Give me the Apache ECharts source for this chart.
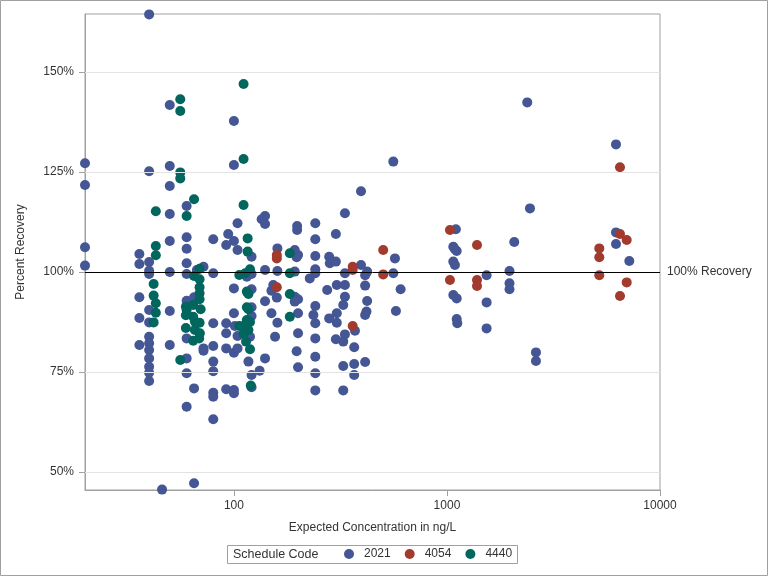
<!DOCTYPE html>
<html><head><meta charset="utf-8">
<script src="https://cdn.jsdelivr.net/npm/echarts@6.0.0/dist/echarts.min.js"></script>
<style>html,body{margin:0;padding:0;background:#fff}#c{width:768px;height:576px}</style>
</head><body><div id="c"></div>
<script>
const categories = ['2021', '4054', '4440'];
const colors = ['#445694', '#A23A2E', '#01665E'];
const xTicks = [100, 1000, 10000];
const yTicks = [50, 75, 100, 125, 150];
const referenceValue = 100;

const conc2021 = [40,50,100,20,40,50,100,20,50,60,50,104,140,135,140,94,100,92,104,121,80,60,60,50,36,36,40,40,40,20,20,50,60,60,72,67,80,115,121,140,159,150,140,150,156,36,40,36,40,40,50,60,65,60,80,100,121,121,100,121,92,101,92,104,119,36,40,40,40,40,40,40,50,60,60,65,60,72,72,80,80,80,80,80,80,92,100,104,117,121,132,140,121,92,100,100,65,46,
395,332,198,198,241,241,301,160,193,200,197,241,280,282,301,570,160,193,241,241,227,332,395,422,413,560,606,413,153,193,200,193,274,304,332,332,326,422,241,200,236,241,160,280,304,304,419,413,576,370,200,241,
301,326,332,367,197,200,241,241,241,326,367,367,413,326,
560,2382,6215,
1101,1071,1111,1090,1071,1090,1071,1111,1111,1118,1535,1535,1535,2453,2070,1966,1966,1966,6215,6215,7177,2617,2617];
const rec2021 = [164.4,141.75,137.75,127.2,125.2,126.5,126.75,121.75,121.5,116.5,114.5,112.2,114,113.2,112,109.5,107.75,106.75,105.5,103.8,108.2,108.7,105.8,107.75,104.5,102,102.5,100.3,99.5,106.2,101.6,100,102.2,99.5,101.3,100.5,99.7,98.8,99.5,100.5,93.6,95.3,92.7,89.7,83.8,93.7,90.5,88.5,87.4,83.8,90.25,92.8,93.7,83.4,87.2,95.9,95.7,91.2,89.7,89,87.2,86.5,84.7,84,83.8,81.75,82.2,80.5,78.4,76.3,74.8,72.75,81.75,78.4,74.7,70.9,66.3,80.9,80.3,81.5,77.6,75.2,69.8,68.8,63.2,80.9,79.8,80.9,77.6,74.25,75.3,78.4,71.2,70.7,70.5,69.7,47.2,45.6,
120.2,114.7,111.5,110.5,112.2,108.2,109.5,105.9,105.5,104.25,103.7,104,103.8,102.2,102.6,103.4,100.25,100.1,100.7,99.7,98.4,99.7,101.75,100.1,99.2,99.7,95.7,96.6,96.75,93.8,93.2,92.6,95.5,96.75,96.75,93.8,91.75,92.75,91.5,89.7,89.25,87.2,87.3,88.4,89.7,87.3,90.1,89.25,90.25,85.3,84.7,83.4,
83.2,82.6,84.4,81.2,80.2,76.2,78.8,74.7,70.4,76.5,77,74.25,77.5,70.4,
127.6,142.4,131.9,
110.7,106.3,105.25,105.7,102.6,101.75,94.25,93.4,88.25,87.2,99.2,92.4,85.9,115.9,107.5,100.25,97.2,95.7,109.9,107,102.75,79.9,77.75];

const conc4054 = [159,159,159,502,361,361,502,361,6489,1033,1033,1384,1384,1384,5188,5188,5188,6489,6978,6978,6489];
const rec4054 = [104.25,103.4,96.2,105.5,101.3,100.5,99.4,86.5,126.2,110.5,98,106.75,98,96.5,105.9,103.7,99.2,109.5,108,97.4,94];

const conc4440 = [56,56,111,56,56,111,65,43,60,111,116,116,43,43,69,65,69,106,113,119,42,42,43,43,42,69,69,69,59.5,60,64.4,69.8,59.5,64.4,65.6,69,59.5,65.6,69.2,68.7,115,117,115,117,115,119,113,106,117,111,64.4,56,119,114,120,183,183,183,183];
const rec4440 = [143.2,140.25,147,124.9,123.4,128.25,118.2,115.2,114,116.75,108.4,105.1,106.5,104.2,100.8,99,98.2,99.25,99.7,100.7,97,94.1,92.2,89.8,87.4,96.2,94.7,93.2,91.3,90.5,91.75,90.7,89.2,88.8,87.6,87.3,86,85.5,84.7,83.4,95.1,94.5,91.2,90.7,88,87.5,86.75,86.5,85.5,84.5,82.8,78,80.7,82.6,71.6,104.7,99.7,94.5,88.8];

const zip = (xs, ys) => xs.map((x, i) => [x, ys[i]]);
const seriesData = [zip(conc2021, rec2021), zip(conc4054, rec4054), zip(conc4440, rec4440)];
const font = '"Liberation Sans", Arial, sans-serif';
const axisGray = '#a0a0a0';

const chart = echarts.init(document.getElementById('c'), null, {renderer: 'canvas'});

const gridLines = yTicks.filter(v => v !== referenceValue).map(v => ({
  yAxis: v, lineStyle: {color: '#e3e3e3', width: 1, type: 'solid'}, label: {show: false}
}));
gridLines.push({
  yAxis: referenceValue, lineStyle: {color: '#000', width: 1, type: 'solid'},
  label: {show: true, position: 'end', formatter: '100% Recovery', color: '#333', fontSize: 12, fontFamily: font, distance: 7}
});

const option = {
  animation: false,
  backgroundColor: '#fff',
  textStyle: {fontFamily: font},
  grid: {left: 85, right: 108, top: 14, bottom: 86, show: true, borderColor: axisGray, borderWidth: 1},
  xAxis: {
    type: 'log', logBase: 10, min: 20, max: 10000,
    name: 'Expected Concentration in ng/L', nameLocation: 'middle', nameGap: 32,
    nameTextStyle: {fontSize: 12, color: '#333', fontFamily: font},
    axisLine: {show: true, lineStyle: {color: axisGray}},
    axisTick: {show: true, length: 6, lineStyle: {color: axisGray}, customValues: xTicks},
    axisLabel: {customValues: xTicks, fontSize: 12, color: '#333', margin: 10, formatter: v => String(Math.round(v))},
    splitLine: {show: false}, minorTick: {show: false}, minorSplitLine: {show: false}
  },
  yAxis: {
    type: 'value', min: 45.5, max: 164.5,
    name: 'Percent Recovery', nameLocation: 'middle', nameGap: 58, nameRotate: 90,
    nameTextStyle: {fontSize: 12, color: '#333', fontFamily: font},
    axisLine: {show: true, lineStyle: {color: axisGray}},
    axisTick: {show: true, length: 6, lineStyle: {color: axisGray}, customValues: yTicks},
    axisLabel: {customValues: yTicks, fontSize: 12, color: '#333', margin: 11, formatter: v => Math.round(v) + '%'},
    splitLine: {show: false}
  },
  legend: {
    data: categories, left: 344, top: 548, itemWidth: 20, itemHeight: 10, itemGap: 14,
    icon: 'circle', textStyle: {fontSize: 12, color: '#333', fontFamily: font}, padding: 0, itemStyle: {borderWidth: 0}
  },
  graphic: [
    {type: 'rect', shape: {x: 0.5, y: 0.5, width: 767, height: 575}, style: {fill: 'none', stroke: '#a0a0a0', lineWidth: 1}, silent: true},
    {type: 'rect', shape: {x: 227.5, y: 545.5, width: 290, height: 18}, style: {fill: 'none', stroke: '#a0a0a0', lineWidth: 1}, silent: true},
    {type: 'text', x: 233, y: 555, style: {text: 'Schedule Code', fontSize: 12.5, fontFamily: font, fill: '#333', textVerticalAlign: 'middle'}, silent: true}
  ],
  series: [
    {type: 'scatter', data: [], z: 1, silent: true,
     markLine: {silent: true, symbol: ['none', 'none'], animation: false, data: gridLines}},
  ].concat(categories.map((name, i) => ({
    name: name, type: 'scatter', data: seriesData[i], symbol: 'circle', symbolSize: 10,
    itemStyle: {color: colors[i], opacity: 1}, z: 2 + i, clip: true
  })))
};
chart.setOption(option);
</script>
</body></html>
